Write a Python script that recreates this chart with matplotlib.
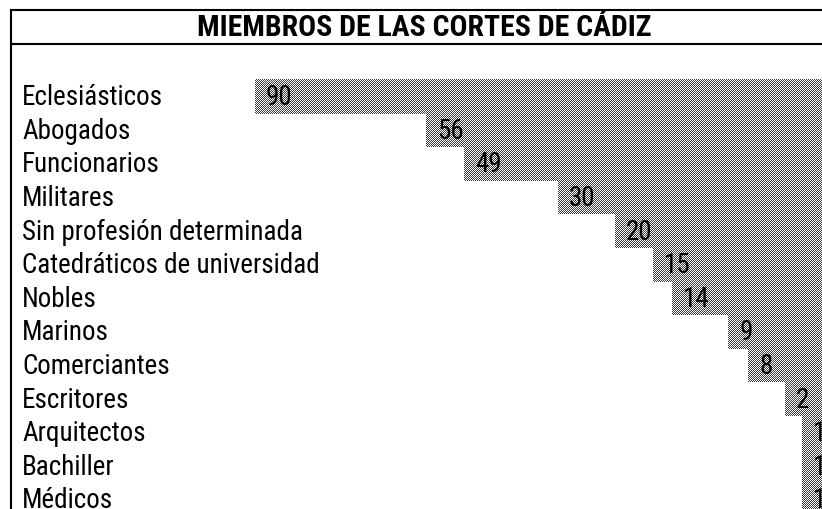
import numpy as np
import matplotlib
matplotlib.use("Agg")
import matplotlib.pyplot as plt
from matplotlib.lines import Line2D
from matplotlib import font_manager
from matplotlib.font_manager import FontProperties

categories = ["Eclesiásticos", "Abogados", "Funcionarios", "Militares",
              "Sin profesión determinada", "Catedráticos de universidad",
              "Nobles", "Marinos", "Comerciantes", "Escritores",
              "Arquitectos", "Bachiller", "Médicos"]
values = [90, 56, 49, 30, 20, 15, 14, 9, 8, 2, 1, 1, 1]
# apparent bar lengths as drawn in the picture (same units as the 90 bar)
bar_lengths = [90.0, 62.9, 56.8, 41.9, 32.9, 26.8, 23.8, 14.9, 11.7, 5.9, 3.2, 3.2, 3.2]
title = "MIEMBROS DE LAS CORTES DE CÁDIZ"


def find_font(patterns):
    files = [f.fname for f in font_manager.fontManager.ttflist]
    for p in patterns:
        for fn in files:
            if p.lower() in fn.lower().replace(" ", ""):
                return fn
    return None


reg_file = find_font(["LiberationSansNarrow-Regular", "RobotoCondensed-Regular",
                      "OpenSansCondensed-Regular", "OpenSans_Condensed-Regular",
                      "DejaVuSansCondensed.ttf"])
bold_file = find_font(["LiberationSansNarrow-Bold.", "RobotoCondensed-Bold.",
                       "OpenSansCondensed-Bold.", "OpenSans_Condensed-Bold.",
                       "DejaVuSansCondensed-Bold.ttf"])
fp_reg = FontProperties(fname=reg_file) if reg_file else FontProperties(family="DejaVu Sans", stretch="condensed")
fp_bold = FontProperties(fname=bold_file) if bold_file else FontProperties(family="DejaVu Sans", weight="bold", stretch="condensed")

W, H = 822, 510
fig = plt.figure(figsize=(W / 100, H / 100), dpi=100)
renderer = fig.canvas.get_renderer()


def fit_size(text, fp, target_px, base=20):
    t = fig.text(0, 0, text, fontproperties=fp, fontsize=base)
    w = t.get_window_extent(renderer=renderer).width
    t.remove()
    return base * target_px / w


lab_size = fit_size("Catedráticos de universidad", fp_reg, 297)
title_size = fit_size(title, fp_bold, 454)

x0, x1 = 11, 822
y_top, y_bot = 46, 510
ax = fig.add_axes([x0 / W, 1 - y_bot / H, (x1 - x0) / W, (y_bot - y_top) / H])
ax.set_axis_off()
ax.patch.set_visible(False)
ax.set_zorder(5)

px_per_unit = 6.3
ax.set_xlim((x1 - x0) / px_per_unit, 0)
row_h = 33.6
first_center = 96.8
ax.set_ylim((y_bot - first_center) / row_h, (y_top - first_center) / row_h)

ypos = np.arange(len(categories))
bars = ax.barh(ypos, bar_lengths, height=1.0, color="none", edgecolor="none")

# pixel-exact checkerboard texture, clipped to each bar
rr, cc = np.mgrid[0:H, 0:W]
checker = np.where(((rr + cc) % 2)[..., None] == 0,
                   np.array([0x3c, 0x3c, 0x3c], dtype=np.uint8),
                   np.array([0xff, 0xff, 0xff], dtype=np.uint8)).astype(np.uint8)
for b in bars:
    im = fig.figimage(checker, xo=0, yo=0, origin="upper", zorder=1)
    im.set_clip_path(b)

for i, (cat, v, L) in enumerate(zip(categories, values, bar_lengths)):
    ax.text((22 - x0) / (x1 - x0), i + 0.25, cat, transform=ax.get_yaxis_transform(),
            ha="left", va="baseline", fontproperties=fp_reg, fontsize=lab_size,
            color="black", zorder=3)
    ax.annotate(str(v), xy=(L, i + 0.25), xytext=(8, 0), textcoords="offset points",
                ha="left", va="baseline", fontproperties=fp_reg, fontsize=lab_size,
                color="black", zorder=3)

lw = 1.5
fig.add_artist(Line2D([11 / W, 11 / W], [0, 1 - 11 / H], color="black", lw=lw, transform=fig.transFigure))
fig.add_artist(Line2D([11 / W, 1], [1 - 11 / H, 1 - 11 / H], color="black", lw=lw, transform=fig.transFigure))
fig.add_artist(Line2D([11 / W, 1], [1 - 45 / H, 1 - 45 / H], color="black", lw=lw, transform=fig.transFigure))

fig.text(424 / W, 1 - 36 / H, title, ha="center", va="baseline", fontproperties=fp_bold,
         fontsize=title_size)

fig.savefig("out.png", dpi=100)
